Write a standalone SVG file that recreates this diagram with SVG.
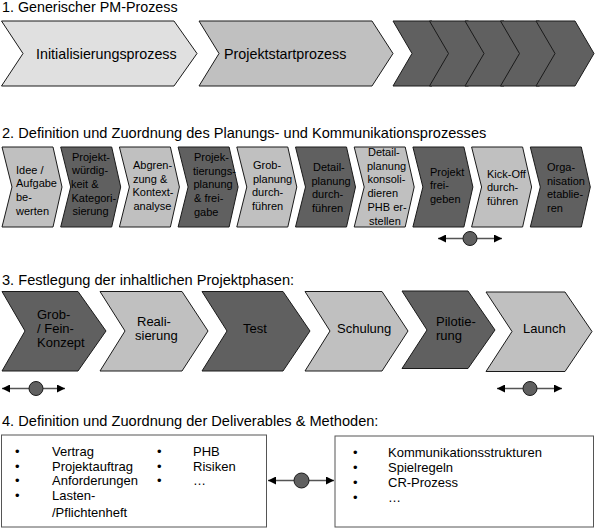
<svg xmlns="http://www.w3.org/2000/svg" width="595" height="529" viewBox="0 0 595 529">
<defs>
<style>
.t{font-family:"Liberation Sans",Arial,sans-serif;fill:#000}
.h{font-size:14.6px}
.r1{font-size:14.3px}
.r2{font-size:11px}
.r3{font-size:13px}
.b{font-size:13px}
.lt{fill:#e0e0e0;stroke:#1a1a1a;stroke-width:1}
.md{fill:#c0c0c0;stroke:#1a1a1a;stroke-width:1}
.dk{fill:#606060;stroke:#1a1a1a;stroke-width:1}
.box{fill:#fff;stroke:#555;stroke-width:1}
.con{stroke:#555;stroke-width:1.5;fill:none;marker-start:url(#ah);marker-end:url(#ah)}
.dot{fill:#606060;stroke:#1a1a1a;stroke-width:1}
</style>
<marker id="ah" viewBox="0 0 8 8" refX="8" refY="4" markerWidth="8" markerHeight="8" markerUnits="userSpaceOnUse" orient="auto-start-reverse">
<path d="M0,0 L8,4 L0,8 z" fill="#000"/>
</marker>
</defs>
<rect width="595" height="529" fill="#fff"/>

<!-- Titles -->
<g id="titles">
<text class="t" style="font-size:14.3px" x="2" y="12">1. Generischer PM-Prozess</text>
<text class="t h" x="2" y="138">2. Definition und Zuordnung des Planungs- und Kommunikationsprozesses</text>
<text class="t h" x="2" y="285">3. Festlegung der inhaltlichen Projektphasen:</text>
<text class="t h" x="2" y="426">4. Definition und Zuordnung der Deliverables &amp; Methoden:</text>
</g>

<!-- Row 1 -->
<g id="r1-init">
<polygon class="lt" points="1.5,21 174,21 197,53.5 174,86 1.5,86 23,53.5"/>
<text class="t r1" x="36" y="59">Initialisierungsprozess</text>
</g>
<g id="r1-start">
<polygon class="md" points="199,21 372,21 393,53.5 372,86 199,86 219,53.5"/>
<text class="t r1" x="224" y="59">Projektstartprozess</text>
</g>
<g id="r1-d1"><polygon class="dk" points="393,21 432,21 451,53.5 432,86 393,86 412,53.5"/></g>
<g id="r1-d2"><polygon class="dk" points="429.5,21 468.5,21 487.5,53.5 468.5,86 429.5,86 448.5,53.5"/></g>
<g id="r1-d3"><polygon class="dk" points="465,21 504,21 523,53.5 504,86 465,86 484,53.5"/></g>
<g id="r1-d4"><polygon class="dk" points="500.5,21 539.5,21 558.5,53.5 539.5,86 500.5,86 519.5,53.5"/></g>
<g id="r1-d5"><polygon class="dk" points="536,21 575,21 594,53.5 575,86 536,86 555,53.5"/></g>

<!-- Row 2 -->
<g id="r2-1">
<polygon class="md" points="2,147 53,147 62,187 53,227 2,227 12,187"/>
<text class="t r2" x="16"><tspan x="16" y="173.5">Idee /</tspan><tspan x="16" y="187.2">Aufgabe</tspan><tspan x="16" y="200.9">be-</tspan><tspan x="16" y="214.6">werten</tspan></text>
</g>
<g id="r2-2">
<polygon class="dk" points="60.7,147 111.7,147 120.7,187 111.7,227 60.7,227 70.7,187"/>
<text class="t r2"><tspan x="72" y="160.5">Projekt-</tspan><tspan x="72" y="174.2">würdig-</tspan><tspan x="71" y="187.9">keit &amp;</tspan><tspan x="71.5" y="201.6">Kategori-</tspan><tspan x="72.5" y="215.3">sierung</tspan></text>
</g>
<g id="r2-3">
<polygon class="md" points="119.4,147 170.4,147 179.4,187 170.4,227 119.4,227 129.4,187"/>
<text class="t r2"><tspan x="133" y="169">Abgren-</tspan><tspan x="133" y="182.7">zung &amp;</tspan><tspan x="132.5" y="196.4">Kontext-</tspan><tspan x="133.5" y="210.1">analyse</tspan></text>
</g>
<g id="r2-4">
<polygon class="dk" points="178.1,147 229.1,147 238.1,187 229.1,227 178.1,227 188.1,187"/>
<text class="t r2"><tspan x="194" y="161">Projek-</tspan><tspan x="193" y="174.7">tierungs-</tspan><tspan x="193.5" y="188.4">planung</tspan><tspan x="194" y="202.1">&amp; frei-</tspan><tspan x="194" y="215.8">gabe</tspan></text>
</g>
<g id="r2-5">
<polygon class="md" points="236.8,147 287.8,147 296.8,187 287.8,227 236.8,227 246.8,187"/>
<text class="t r2"><tspan x="253" y="169">Grob-</tspan><tspan x="253" y="182.7">planung</tspan><tspan x="252" y="196.4">durch-</tspan><tspan x="252" y="210.1">führen</tspan></text>
</g>
<g id="r2-6">
<polygon class="dk" points="295.5,147 346.5,147 355.5,187 346.5,227 295.5,227 305.5,187"/>
<text class="t r2"><tspan x="313" y="171">Detail-</tspan><tspan x="311.5" y="184.7">planung</tspan><tspan x="312" y="198.4">durch-</tspan><tspan x="312" y="212.1">führen</tspan></text>
</g>
<g id="r2-7">
<polygon class="md" points="354.2,147 405.2,147 414.2,187 405.2,227 354.2,227 364.2,187"/>
<text class="t r2"><tspan x="368" y="156">Detail-</tspan><tspan x="367" y="169.7">planung</tspan><tspan x="367.5" y="183.4">konsoli-</tspan><tspan x="367.5" y="197.1">dieren</tspan><tspan x="367.5" y="210.8">PHB er-</tspan><tspan x="369" y="224.5">stellen</tspan></text>
</g>
<g id="r2-8">
<polygon class="dk" points="412.9,147 463.9,147 472.9,187 463.9,227 412.9,227 422.9,187"/>
<text class="t r2"><tspan x="430" y="175.5">Projekt</tspan><tspan x="430" y="189.2">frei-</tspan><tspan x="430" y="202.9">geben</tspan></text>
</g>
<g id="r2-9">
<polygon class="md" points="471.6,147 522.6,147 531.6,187 522.6,227 471.6,227 481.6,187"/>
<text class="t r2"><tspan x="487" y="177.5">Kick-Off</tspan><tspan x="487" y="191.2">durch-</tspan><tspan x="487" y="204.9">führen</tspan></text>
</g>
<g id="r2-10">
<polygon class="dk" points="530.3,147 581.3,147 590.3,187 581.3,227 530.3,227 540.3,187"/>
<text class="t r2"><tspan x="547" y="171">Orga-</tspan><tspan x="547" y="184.7">nisation</tspan><tspan x="547" y="198.4">etablie-</tspan><tspan x="547" y="212.1">ren</tspan></text>
</g>

<!-- Row 3 -->
<g id="r3-1">
<polygon class="dk" points="2,291.5 78,291.5 106,331 78,371 2,371 25,331"/>
<text class="t r3"><tspan x="37" y="318.5">Grob-</tspan><tspan x="37" y="332.5">/ Fein-</tspan><tspan x="37" y="346.5">Konzept</tspan></text>
</g>
<g id="r3-2">
<polygon class="md" points="100,291.5 182,291.5 208,331 182,371 100,371 125,331"/>
<text class="t r3"><tspan x="137" y="325.5">Reali-</tspan><tspan x="135" y="339.5">sierung</tspan></text>
</g>
<g id="r3-3">
<polygon class="dk" points="202,291.5 283,291.5 310,331 283,371 202,371 227,331"/>
<text class="t r3" x="243" y="332.5">Test</text>
</g>
<g id="r3-4">
<polygon class="md" points="305,291.5 382,291.5 408,331 382,371 305,371 330,331"/>
<text class="t r3" x="337" y="332.5">Schulung</text>
</g>
<g id="r3-5">
<polygon class="dk" points="402,291 468,291 495,330 468,368.5 402,368.5 427,330"/>
<text class="t r3"><tspan x="436" y="325.5">Pilotie-</tspan><tspan x="436" y="340">rung</tspan></text>
</g>
<g id="r3-6">
<polygon class="md" points="486,292 565,292 592,331.5 565,371.5 486,371.5 512,331.5"/>
<text class="t r3" x="523" y="332.5">Launch</text>
</g>

<!-- Row 4 boxes -->
<g id="box-deliverables">
<rect class="box" x="1.5" y="435" width="265" height="92"/>
<g class="t b">
<text x="15" y="456">•</text><text x="52" y="456">Vertrag</text>
<text x="15" y="470.5">•</text><text x="52" y="470.5">Projektauftrag</text>
<text x="15" y="485">•</text><text x="52" y="485">Anforderungen</text>
<text x="15" y="499.5">•</text><text x="52" y="499.5">Lasten-</text>
<text x="52" y="516.5">/Pflichtenheft</text>
<text x="157" y="456">•</text><text x="193" y="456">PHB</text>
<text x="157" y="470.5">•</text><text x="193" y="470.5">Risiken</text>
<text x="157" y="485">•</text><text x="193" y="485">…</text>
</g>
</g>
<g id="box-methoden">
<rect class="box" x="335" y="436" width="258.5" height="91"/>
<g class="t b">
<text x="353" y="456.5">•</text><text x="388" y="456.5">Kommunikationsstrukturen</text>
<text x="353" y="471.5">•</text><text x="388" y="471.5">Spielregeln</text>
<text x="353" y="486.5">•</text><text x="388" y="486.5">CR-Prozess</text>
<text x="353" y="501.5">•</text><text x="388" y="501.5">…</text>
</g>
</g>

<!-- Connectors -->
<g id="connectors">
<line class="con" x1="438" y1="238.5" x2="502" y2="238.5"/>
<circle class="dot" cx="470" cy="238.5" r="7"/>
<line class="con" x1="2" y1="388.5" x2="65" y2="388.5"/>
<circle class="dot" cx="36" cy="388.5" r="7"/>
<line class="con" x1="497" y1="388.5" x2="562" y2="388.5"/>
<circle class="dot" cx="530" cy="388.5" r="7"/>
<line class="con" x1="268" y1="480.5" x2="334" y2="480.5"/>
<circle class="dot" cx="301.5" cy="480.5" r="7.5"/>
</g>
</svg>
